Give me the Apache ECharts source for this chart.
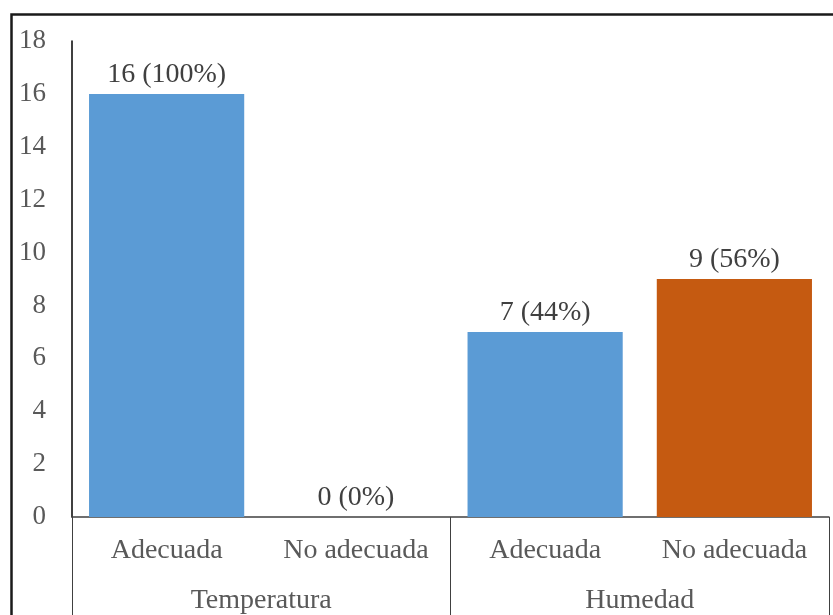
<!DOCTYPE html>
<html><head><meta charset="utf-8">
<script src="https://cdn.jsdelivr.net/npm/echarts@6/dist/echarts.min.js"></script>
<style>html,body{margin:0;padding:0;background:#fff}#c{width:833px;height:615px}</style>
</head><body><div id="c"></div>
<script>
const categories = ['Adecuada', 'No adecuada', 'Adecuada', 'No adecuada'];
const groups = ['Temperatura', 'Humedad'];
const values = [16, 0, 7, 9];
const percents = ['100%', '0%', '44%', '56%'];
const barColors = ['#5B9BD5', '#5B9BD5', '#5B9BD5', '#C55A11'];
const yTicks = { min: 0, max: 18, interval: 2 };

const font = '"Liberation Serif", "Times New Roman", serif';
const chart = echarts.init(document.getElementById('c'));
chart.setOption({
  animation: false,
  grid: { left: 72, right: 4, top: 41, bottom: 98, containLabel: false },
  graphic: [{
    type: 'rect', shape: { x: 11.5, y: 14.5, width: 900, height: 700 },
    style: { fill: 'none', stroke: '#1a1a1a', lineWidth: 2.5 }, silent: true
  }],
  xAxis: [{
    type: 'category', data: categories, position: 'bottom',
    axisLine: { show: true, lineStyle: { color: '#404040', width: 1.5 } },
    axisTick: { show: false },
    axisLabel: { margin: 20, fontFamily: font, fontSize: 28, color: '#595959', interval: 0 }
  }, {
    type: 'category', data: groups, position: 'bottom',
    axisLine: { show: false },
    axisTick: { show: true, length: 110, lineStyle: { color: '#404040', width: 1 } },
    axisLabel: { margin: 70, fontFamily: font, fontSize: 28, color: '#595959', interval: 0 }
  }],
  yAxis: {
    type: 'value', min: yTicks.min, max: yTicks.max, interval: yTicks.interval,
    axisLine: { show: true, lineStyle: { color: '#000', width: 1.5 } },
    axisTick: { show: false },
    splitLine: { show: false },
    axisLabel: { margin: 26, fontFamily: font, fontSize: 27, color: '#595959' }
  },
  series: [{
    type: 'bar', xAxisIndex: 0, barCategoryGap: '18%',
    data: values.map((v, i) => ({ value: v, itemStyle: { color: barColors[i] } })),
    label: {
      show: true, position: 'top', distance: 5,
      fontFamily: font, fontSize: 28, color: '#404040',
      formatter: p => p.value + ' (' + percents[p.dataIndex] + ')'
    }
  }]
});
</script></body></html>
